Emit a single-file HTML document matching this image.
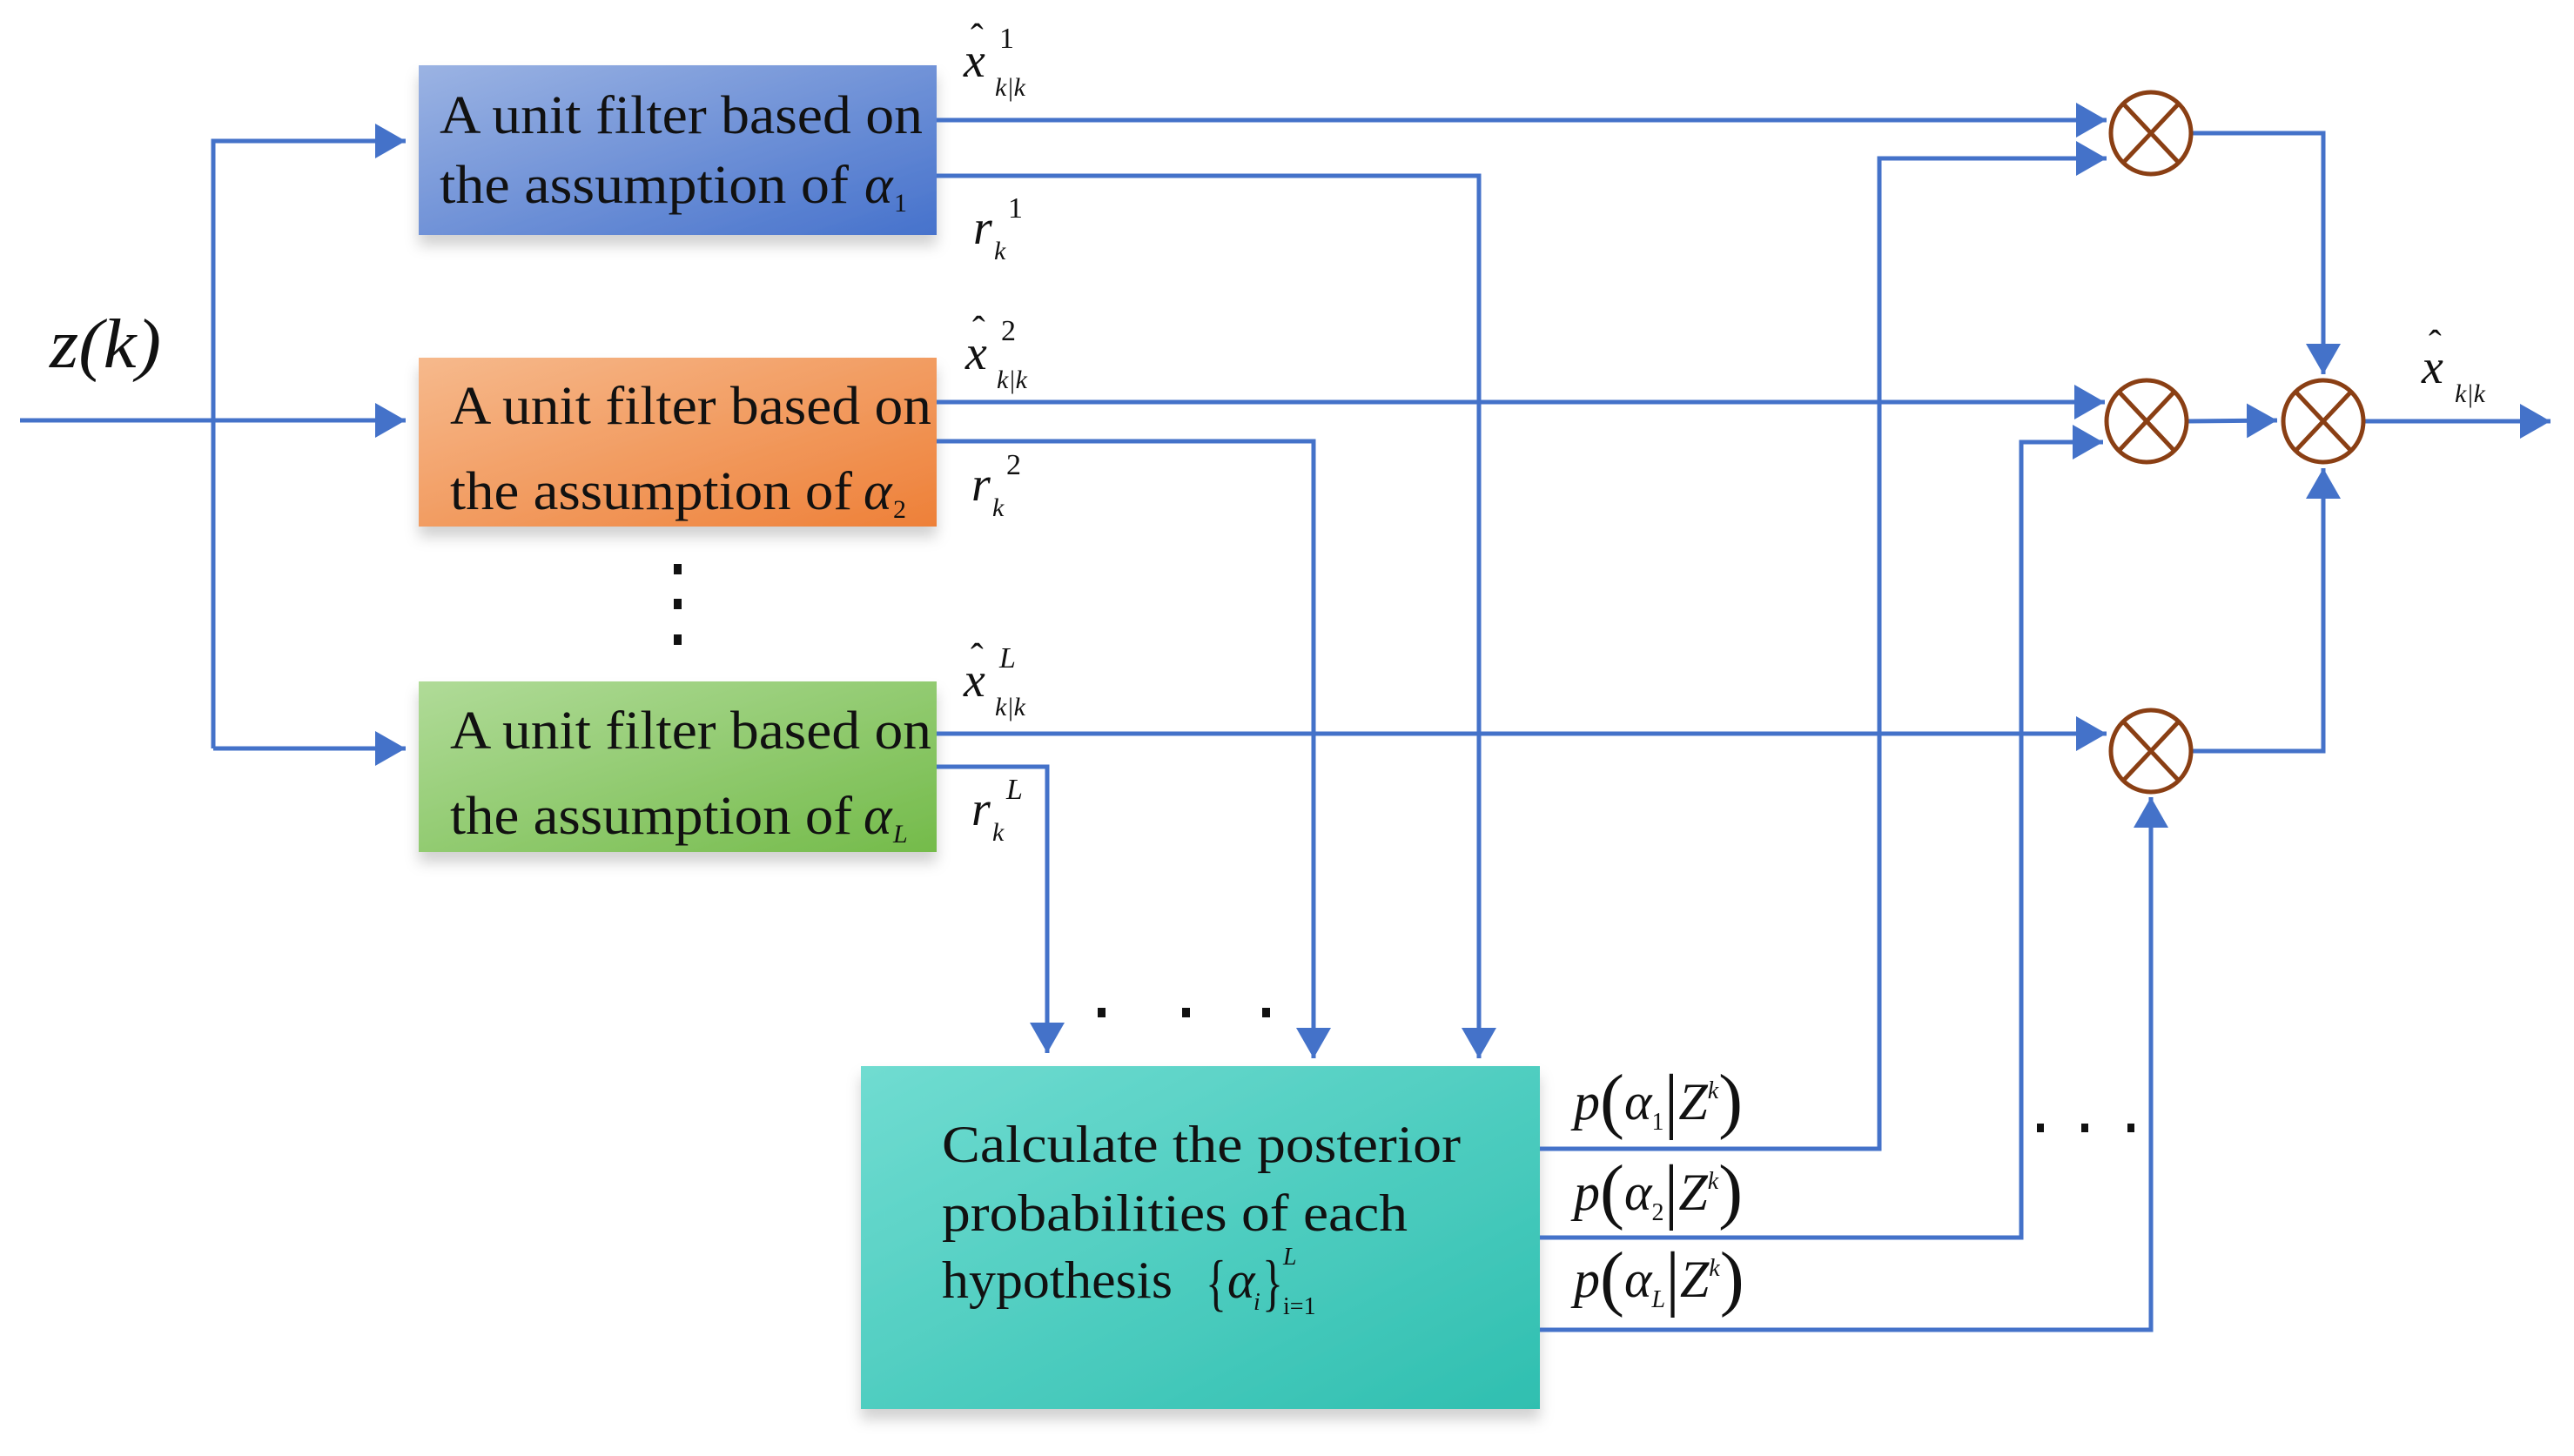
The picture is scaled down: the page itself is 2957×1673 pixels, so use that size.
<!DOCTYPE html>
<html><head><meta charset="utf-8"><style>
html,body{margin:0;padding:0;background:#fff;}
svg{display:block;}
text{font-family:"Liberation Serif",serif;fill:#111;}
.it{font-style:italic;}
</style></head><body>
<svg width="2957" height="1673" viewBox="0 0 2957 1673" xmlns="http://www.w3.org/2000/svg">
<defs>
<linearGradient id="gb" x1="0" y1="0" x2="1" y2="1"><stop offset="0" stop-color="#9bb3e3"/><stop offset="1" stop-color="#4672cc"/></linearGradient>
<linearGradient id="go" x1="0" y1="0" x2="1" y2="1"><stop offset="0" stop-color="#f6b98c"/><stop offset="1" stop-color="#ee8038"/></linearGradient>
<linearGradient id="gg" x1="0" y1="0" x2="1" y2="1"><stop offset="0" stop-color="#b0db98"/><stop offset="1" stop-color="#74bb4a"/></linearGradient>
<linearGradient id="gt" x1="0" y1="0" x2="1" y2="1"><stop offset="0" stop-color="#70dcd1"/><stop offset="1" stop-color="#2fbfb0"/></linearGradient>
<filter id="sh" x="-10%" y="-10%" width="120%" height="130%"><feDropShadow dx="0" dy="12" stdDeviation="8" flood-color="#000" flood-opacity="0.18"/></filter>
<marker id="ar" markerWidth="8" markerHeight="8" refX="7" refY="4" orient="auto" markerUnits="strokeWidth"><path d="M0,0 L7,4 L0,8 z" fill="#4472c9"/></marker>
</defs>

<rect x="481" y="75" width="595" height="195" fill="url(#gb)" filter="url(#sh)"/>
<rect x="481" y="411" width="595" height="194" fill="url(#go)" filter="url(#sh)"/>
<rect x="481" y="783" width="595" height="196" fill="url(#gg)" filter="url(#sh)"/>
<rect x="989" y="1225" width="780" height="394" fill="url(#gt)" filter="url(#sh)"/>

<g stroke="#4472c9" stroke-width="5" fill="none">
<path d="M23 483 H466" marker-end="url(#ar)"/>
<path d="M245 860 V162 H466" marker-end="url(#ar)"/>
<path d="M245 860 H466" marker-end="url(#ar)"/>
<path d="M1076 138 H2420" marker-end="url(#ar)"/>
<path d="M1076 462 H2418" marker-end="url(#ar)"/>
<path d="M1076 843 H2420" marker-end="url(#ar)"/>
<path d="M1076 202 H1699 V1216" marker-end="url(#ar)"/>
<path d="M1076 507 H1509 V1216" marker-end="url(#ar)"/>
<path d="M1076 881 H1203 V1210" marker-end="url(#ar)"/>
<path d="M1769 1320 H2159 V182 H2420" marker-end="url(#ar)"/>
<path d="M1769 1422 H2322 V508 H2416" marker-end="url(#ar)"/>
<path d="M1769 1528 H2471 V916" marker-end="url(#ar)"/>
<path d="M2517 153 H2669 V430" marker-end="url(#ar)"/>
<path d="M2517 863 H2669 V538" marker-end="url(#ar)"/>
<path d="M2512 484 L2616 483" marker-end="url(#ar)"/>
<path d="M2715 484 H2930" marker-end="url(#ar)"/>
</g>

<g stroke="#8a3f14" stroke-width="5" fill="#fff">
<ellipse cx="2471" cy="153" rx="46" ry="47"/>
<ellipse cx="2466" cy="484" rx="46" ry="47"/>
<ellipse cx="2471" cy="863" rx="46" ry="47"/>
<ellipse cx="2669" cy="484" rx="46" ry="47"/>
</g>
<g stroke="#8a3f14" stroke-width="5">
<path d="M2440 120 L2502 186 M2502 120 L2440 186"/>
<path d="M2435 451 L2497 517 M2497 451 L2435 517"/>
<path d="M2440 830 L2502 896 M2502 830 L2440 896"/>
<path d="M2638 451 L2700 517 M2700 451 L2638 517"/>
</g>

<g fill="#111">
<rect x="774" y="648" width="9" height="12"/><rect x="774" y="688" width="9" height="12"/><rect x="774" y="729" width="9" height="12"/>
<rect x="1261" y="1158" width="9" height="11"/><rect x="1358" y="1158" width="9" height="11"/><rect x="1450" y="1158" width="9" height="11"/>
<rect x="2340" y="1291" width="8" height="10"/><rect x="2391" y="1291" width="8" height="10"/><rect x="2444" y="1291" width="8" height="10"/>
</g>

<g font-size="62">
<text x="505" y="153" textLength="555" lengthAdjust="spacingAndGlyphs">A unit filter based on</text>
<text x="505" y="233" textLength="470" lengthAdjust="spacingAndGlyphs">the assumption of</text>
<text x="517" y="487" textLength="553" lengthAdjust="spacingAndGlyphs">A unit filter based on</text>
<text x="517" y="585" textLength="462" lengthAdjust="spacingAndGlyphs">the assumption of</text>
<text x="517" y="860" textLength="553" lengthAdjust="spacingAndGlyphs">A unit filter based on</text>
<text x="517" y="958" textLength="462" lengthAdjust="spacingAndGlyphs">the assumption of</text>
</g>
<g class="it" font-size="62">
<text x="993" y="233" class="it">α</text><text x="1027" y="243" font-size="30" font-style="normal">1</text>
<text x="992" y="585" class="it">α</text><text x="1026" y="595" font-size="30" font-style="normal">2</text>
<text x="992" y="958" class="it">α</text><text x="1026" y="968" font-size="30" class="it">L</text>
</g>

<g font-size="60">
<text x="1082" y="1335" textLength="596" lengthAdjust="spacingAndGlyphs">Calculate the posterior</text>
<text x="1082" y="1414" textLength="535" lengthAdjust="spacingAndGlyphs">probabilities of each</text>
<text x="1082" y="1491" textLength="265" lengthAdjust="spacingAndGlyphs">hypothesis</text>
<text x="1385" y="1498" font-size="72" textLength="24" lengthAdjust="spacingAndGlyphs">{</text>
<text x="1410" y="1491" class="it">α</text>
<text x="1440" y="1505" font-size="28" class="it">i</text>
<text x="1450" y="1498" font-size="72" textLength="24" lengthAdjust="spacingAndGlyphs">}</text>
<text x="1474" y="1453" font-size="28" class="it">L</text>
<text x="1474" y="1510" font-size="28">i=1</text>
</g>

<text x="57" y="422" font-size="80" class="it" textLength="128" lengthAdjust="spacingAndGlyphs">z(k)</text>

<g font-size="56">
<text x="1107" y="88" class="it">x</text><text x="1115" y="58" font-size="44">ˆ</text><text x="1148" y="55" font-size="34">1</text><text x="1143" y="110" font-size="30" class="it">k|k</text>
<text x="1118" y="280" class="it">r</text><text x="1158" y="250" font-size="34">1</text><text x="1142" y="298" font-size="30" class="it">k</text>

<text x="1109" y="424" class="it">x</text><text x="1117" y="394" font-size="44">ˆ</text><text x="1150" y="391" font-size="34">2</text><text x="1145" y="446" font-size="30" class="it">k|k</text>
<text x="1116" y="575" class="it">r</text><text x="1156" y="545" font-size="34">2</text><text x="1140" y="593" font-size="30" class="it">k</text>

<text x="1107" y="800" class="it">x</text><text x="1115" y="770" font-size="44">ˆ</text><text x="1148" y="767" font-size="34" class="it">L</text><text x="1143" y="822" font-size="30" class="it">k|k</text>
<text x="1116" y="948" class="it">r</text><text x="1156" y="918" font-size="34" class="it">L</text><text x="1140" y="966" font-size="30" class="it">k</text>

<text x="2782" y="440" class="it">x</text><text x="2790" y="410" font-size="44">ˆ</text><text x="2820" y="462" font-size="30" class="it">k|k</text>
</g>

<g font-size="60">
<text x="1808" y="1286"><tspan class="it">p</tspan><tspan font-size="84" dy="6">(</tspan><tspan class="it" dy="-6">α</tspan><tspan font-size="28" dy="12">1</tspan><tspan font-size="84" dy="-6">|</tspan><tspan class="it" dy="-6">Z</tspan><tspan font-size="28" class="it" dy="-24">k</tspan><tspan font-size="84" dy="30">)</tspan></text>
<text x="1808" y="1390"><tspan class="it">p</tspan><tspan font-size="84" dy="6">(</tspan><tspan class="it" dy="-6">α</tspan><tspan font-size="28" dy="12">2</tspan><tspan font-size="84" dy="-6">|</tspan><tspan class="it" dy="-6">Z</tspan><tspan font-size="28" class="it" dy="-24">k</tspan><tspan font-size="84" dy="30">)</tspan></text>
<text x="1808" y="1490"><tspan class="it">p</tspan><tspan font-size="84" dy="6">(</tspan><tspan class="it" dy="-6">α</tspan><tspan font-size="28" class="it" dy="12">L</tspan><tspan font-size="84" dy="-6">|</tspan><tspan class="it" dy="-6">Z</tspan><tspan font-size="28" class="it" dy="-24">k</tspan><tspan font-size="84" dy="30">)</tspan></text>
</g>
</svg>
</body></html>
